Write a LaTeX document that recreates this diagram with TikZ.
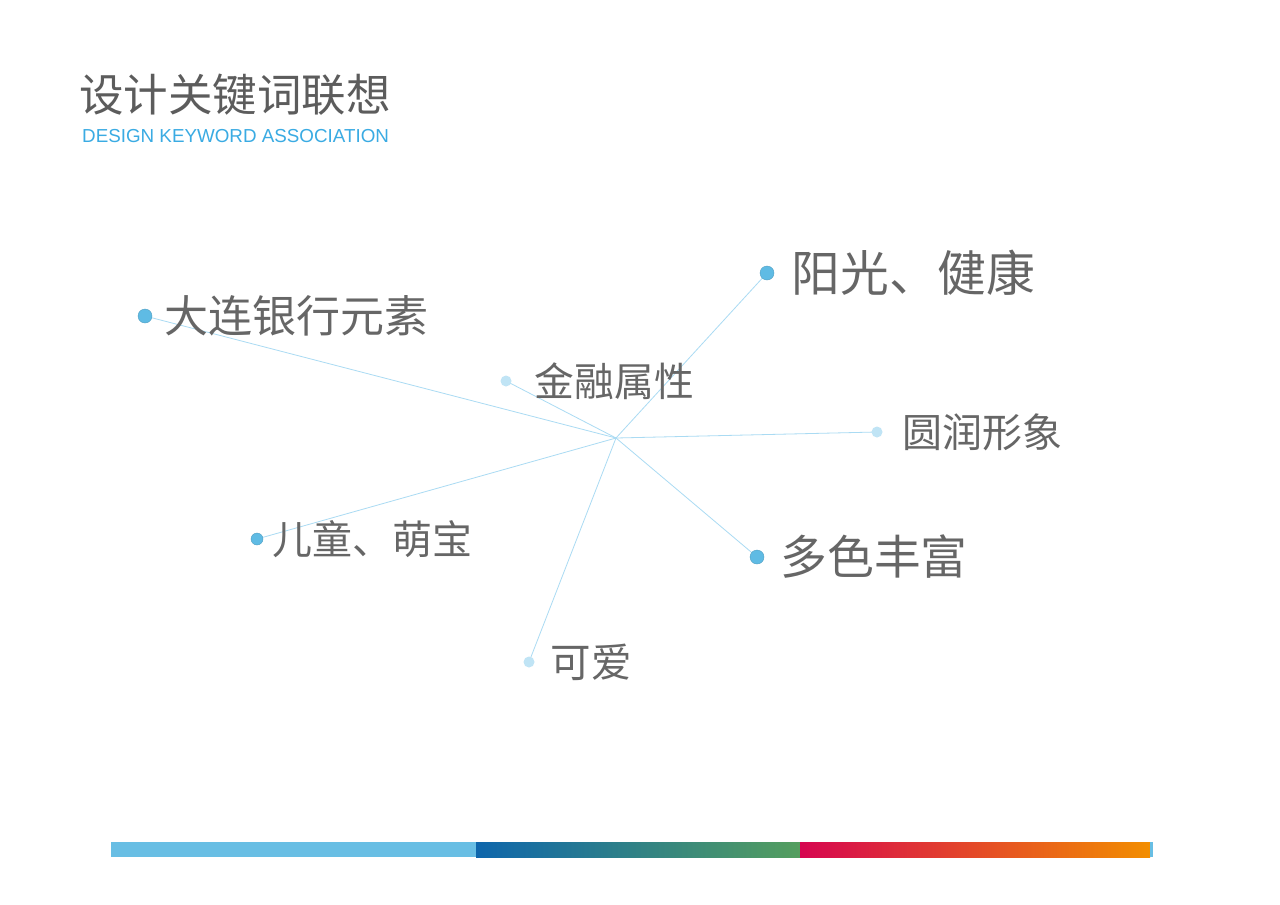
\documentclass[tikz,border=0pt]{standalone}
\usepackage{fontspec}
\setmainfont{Liberation Sans}
\newfontfamily\cjk{Noto Sans CJK SC}
\usetikzlibrary{positioning,backgrounds}
\definecolor{textgray}{RGB}{102,102,102}
\definecolor{titlegray}{RGB}{92,92,92}
\definecolor{skyblue}{RGB}{58,171,227}
\definecolor{dotblue}{RGB}{95,187,228}
\definecolor{dotpale}{RGB}{192,228,245}
\definecolor{linkblue}{RGB}{170,219,243}
\definecolor{barblue}{RGB}{104,190,228}
\definecolor{deepblue}{RGB}{14,102,172}
\definecolor{leafgreen}{RGB}{84,158,94}
\definecolor{crimson}{RGB}{214,6,80}
\definecolor{amber}{RGB}{242,142,0}

\begin{document}
\begin{tikzpicture}[x=1pt,y=-1pt]
\tikzset{dot/.style={circle,inner sep=0pt,minimum size=#1},
  hot/.style={dot=14pt,fill=dotblue,draw=dotblue!85!black,line width=0.4pt},
  pale/.style={dot=11pt,fill=dotpale},
  kw/.style={anchor=west,inner sep=0pt,text=textgray,font=\cjk\fontsize{#1}{#1}\selectfont},
  link/.style={draw=linkblue,line width=0.8pt}}
\useasboundingbox (0,0) rectangle (1280,905);
\begin{scope}[on background layer]
\fill[white] (0,0) rectangle (1280,905);
\end{scope}
% title
\node[anchor=west,inner sep=0pt,text=titlegray,font=\cjk\fontsize{44.5}{44.5}\selectfont] (title) at (79,95) {设计关键词联想};
\node[anchor=west,inner sep=0pt,text=skyblue,font=\fontsize{18.8}{18.8}\selectfont] (sub) at (82,136) {DESIGN KEYWORD ASSOCIATION};
% keyword dots
\coordinate (hub) at (616,438);
\node[hot] (d1) at (145,316) {};
\node[hot] (d2) at (767,273) {};
\node[pale] (d3) at (506,381) {};
\node[pale] (d4) at (877,432) {};
\node[hot,dot=12pt] (d5) at (257,539) {};
\node[hot] (d6) at (757,557) {};
\node[pale] (d7) at (529,662) {};
\begin{scope}[on background layer]
\foreach \d in {d1,d2,d3,d4,d5,d6,d7}
  \draw[link] (hub) -- (\d.center);
\end{scope}
% keywords
\node[kw=44,right=12pt of d1] (k1) {大连银行元素};
\node[kw=48.8,right=17pt of d2] (k2) {阳光、健康};
\node[kw=39.8,right=23pt of d3] (k3) {金融属性};
\node[kw=40,right=20pt of d4] (k4) {圆润形象};
\node[kw=40,right=9pt of d5] (k5) {儿童、萌宝};
\node[kw=46.8,right=16pt of d6] (k6) {多色丰富};
\node[kw=40.5,right=16pt of d7] (k7) {可爱};
% colour bar
\fill[barblue] (111,842) rectangle (476,857);
\shade[left color=deepblue,right color=leafgreen] (476,842) rectangle (800,857);
\shade[left color=crimson,right color=amber] (800,842) rectangle (1150,857);
\fill[barblue] (1150,842) rectangle (1153,857);
\end{tikzpicture}
\end{document}
